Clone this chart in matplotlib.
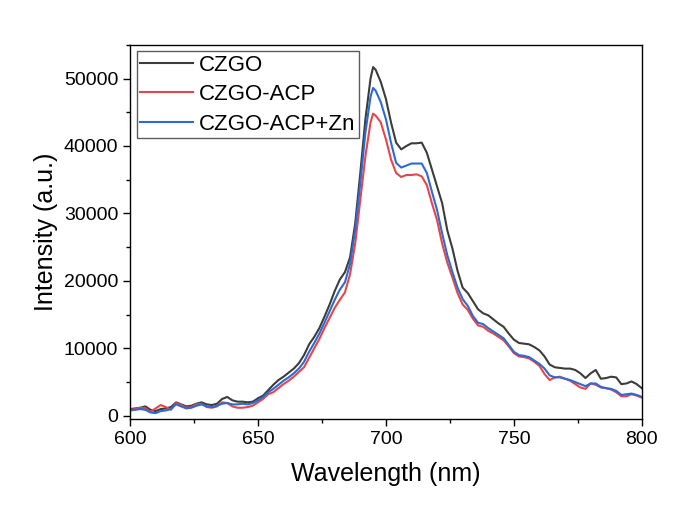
import matplotlib.pyplot as plt
from matplotlib.ticker import MultipleLocator

# wavelength grid (nm)
wl = [600, 602, 604, 606, 608, 610, 612, 614, 616, 618,
      620, 622, 624, 626, 628, 630, 632, 634, 636, 638,
      640, 642, 644, 646, 648, 650, 652, 654, 656, 658,
      660, 662, 664, 666, 668, 670, 672, 674, 676, 678,
      680, 682, 684, 686, 688, 690, 692, 694, 695, 696,
      698, 700, 702, 704, 706, 708, 710, 712, 714, 716,
      718, 720, 722, 724, 726, 728, 730, 732, 734, 736,
      738, 740, 742, 744, 746, 748, 750, 752, 754, 756,
      758, 760, 762, 764, 766, 768, 770, 772, 774, 776,
      778, 780, 782, 784, 786, 788, 790, 792, 794, 796,
      798, 800]

czgo = [1000, 1100, 1200, 1400, 900, 700, 1000, 1100, 1300, 2000,
        1700, 1400, 1500, 1800, 2000, 1700, 1600, 1800, 2500, 2800,
        2300, 2100, 2100, 2000, 2100, 2600, 3000, 3800, 4600, 5300,
        5800, 6400, 7000, 7800, 9000, 10600, 11700, 13000, 14700, 16500,
        18500, 20200, 21300, 23500, 28500, 36000, 44000, 50000, 51700, 51300,
        49500, 47000, 43500, 40500, 39500, 40000, 40400, 40400, 40500, 39000,
        36500, 34000, 31500, 27500, 24800, 21500, 19000, 18200, 17000, 15800,
        15200, 14900, 14300, 13700, 13200, 12200, 11300, 10800, 10700, 10600,
        10200, 9700, 8800, 7600, 7200, 7100, 7000, 7000, 6800, 6300,
        5600, 6300, 6800, 5500, 5600, 5800, 5700, 4700, 4800, 5100,
        4700, 4100]

czgo_acp = [900, 1000, 1200, 1100, 600, 1100, 1600, 1300, 900, 1900,
            1600, 1200, 1300, 1700, 1800, 1300, 1200, 1400, 2000, 1900,
            1400, 1200, 1200, 1300, 1500, 2000, 2500, 3200, 3500, 4100,
            4700, 5200, 5800, 6500, 7200, 8600, 10000, 11400, 13000, 14500,
            16000, 17200, 18300, 21000, 25500, 32000, 38500, 43500, 44800, 44500,
            43500, 41000, 38000, 36000, 35400, 35700, 35700, 35800, 35500, 34200,
            31500, 29000, 25500, 22700, 20500, 18200, 16500, 15700, 14400, 13400,
            13200, 12600, 12200, 11700, 11200, 10300, 9300, 8800, 8700, 8500,
            8000, 7400, 6200, 5300, 5700, 5800, 5500, 5200, 4700, 4200,
            4000, 4800, 4600, 4200, 4100, 3900, 3500, 2900, 2900, 3200,
            3000, 2700]

czgo_acp_zn = [800, 900, 1000, 900, 500, 400, 700, 800, 1000, 1700,
               1400, 1100, 1200, 1500, 1700, 1400, 1300, 1500, 1800, 1900,
               1700, 1700, 1800, 1700, 1900, 2300, 2800, 3500, 4000, 4600,
               5200, 5700, 6300, 7000, 8000, 9500, 10800, 12200, 13800, 15500,
               17200, 18700, 19800, 22500, 27500, 34500, 42000, 47300, 48600, 48200,
               46500, 44000, 40500, 37500, 36800, 37100, 37400, 37400, 37400, 36000,
               33200, 30500, 27000, 23800, 21300, 19000, 17300, 16300, 14800, 13800,
               13600, 13000, 12500, 12000, 11500, 10500, 9500, 9000, 8900, 8700,
               8200, 7700, 7000, 6000, 5700, 5700, 5500, 5300, 5000, 4700,
               4400, 4800, 4800, 4300, 4100, 4000, 3700, 3100, 3200, 3300,
               3100, 2800]

labels = ['CZGO', 'CZGO-ACP', 'CZGO-ACP+Zn']
colors = ['#3c3c3c', '#e8454a', '#2b6bd3']

plt.rcParams['font.family'] = ['Liberation Sans', 'DejaVu Sans']

fig = plt.figure(figsize=(6.77, 5.15), dpi=100)
ax = fig.add_axes([0.192, 0.186, 0.756, 0.727])

for ys, lab, c in zip([czgo, czgo_acp, czgo_acp_zn], labels, colors):
    ax.plot(wl, ys, color=c, lw=1.5, label=lab)

ax.set_xlim(600, 800)
ax.set_ylim(-500, 55000)
ax.xaxis.set_major_locator(MultipleLocator(50))
ax.xaxis.set_minor_locator(MultipleLocator(25))
ax.yaxis.set_major_locator(MultipleLocator(10000))
ax.yaxis.set_minor_locator(MultipleLocator(5000))
ax.tick_params(which='both', direction='out', top=False, right=False, labelsize=14)
ax.tick_params(which='major', length=5, width=1)
ax.tick_params(which='minor', length=3, width=1)
for s in ax.spines.values():
    s.set_linewidth(1)

ax.set_xlabel('Wavelength (nm)', fontsize=18, labelpad=10)
ax.set_ylabel('Intensity (a.u.)', fontsize=18)

leg = ax.legend(loc='upper left', fontsize=16, frameon=True, fancybox=False,
                handlelength=2.4, labelspacing=0.38, borderpad=0.15,
                borderaxespad=0.3, handletextpad=0.27)
leg.get_frame().set_edgecolor('#333333')
leg.get_frame().set_linewidth(1)

plt.savefig('out.png', dpi=100)
